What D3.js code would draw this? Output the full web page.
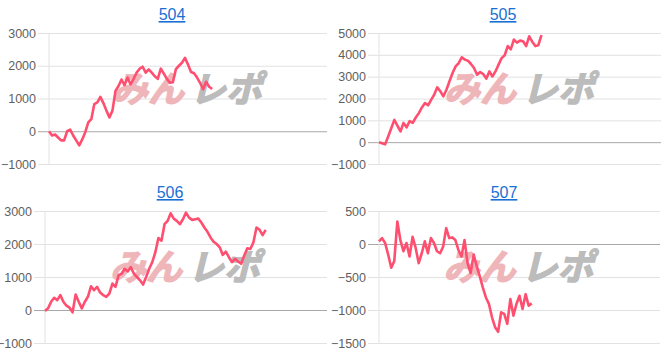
<!DOCTYPE html>
<html>
<head>
<meta charset="utf-8">
<script src="https://cdn.jsdelivr.net/npm/d3@7"></script>
<style>
  body { margin: 0; background: #fff; }
  svg { display: block; font-family: "Liberation Sans", Arial, sans-serif; }
  .tick-label { fill: #5f5f5f; font-size: 12.5px; }
  .title { fill: #1a6fd4; font-size: 16px; text-decoration: underline; }
</style>
</head>
<body>
<div class="chart"></div>
<script>
// machine names
const titles = ["504", "505", "506", "507"];

// y tick labels per machine
const ticks504 = [-1000, 0, 1000, 2000, 3000];
const ticks505 = [-1000, 0, 1000, 2000, 3000, 4000, 5000];
const ticks506 = [-1000, 0, 1000, 2000, 3000];
const ticks507 = [-1500, -1000, -500, 0, 500];

// cumulative difference per game
const series504 = [0, -130, -100, -190, -280, -280, 0, 50, -130, -280, -430, -250, -30, 270, 370, 830, 880, 1050,
  860, 630, 420, 630, 1230, 1380, 1580, 1410, 1640, 1430, 1600, 1790, 1910, 1970, 1790, 1890, 1790, 1680, 1600,
  1910, 1760, 1600, 1480, 1500, 1900, 2000, 2090, 2240, 2040, 1810, 1770, 1640, 1480, 1280, 1510, 1360, 1290];
const series505 = [0, -50, -100, 260, 640, 1020, 760, 490, 880, 680, 960, 880, 1130, 1330, 1590, 1790, 1690, 1940,
  2170, 2510, 2330, 2100, 2400, 2790, 3170, 3470, 3620, 3890, 3780, 3730, 3580, 3400, 3090, 3210, 3120, 2910,
  3240, 3010, 3240, 3550, 3850, 3980, 4400, 4250, 4700, 4560, 4650, 4620, 4400, 4850, 4600, 4400, 4450, 4900];
const series506 = [-30, 50, 250, 370, 300, 450, 250, 130, 70, -70, 470, 250, 50, 250, 400, 720, 600, 700, 530, 450,
  400, 500, 800, 700, 1050, 1100, 1250, 1170, 1300, 1100, 1000, 900, 770, 1000, 1250, 1450, 1750, 2180, 2100,
  2600, 2700, 2930, 2770, 2700, 2600, 2750, 2950, 2800, 2730, 2750, 2770, 2650, 2500, 2370, 2200, 2070, 2000,
  1900, 1670, 1770, 1600, 1450, 1550, 1470, 1400, 1650, 1870, 1850, 2050, 2500, 2430, 2270, 2430];
const series507 = [40, 90, 15, -160, -360, -260, 340, 60, -110, 15, -190, 110, -60, -290, -140, 40, -140, 90, 15,
  -110, -140, -40, 240, 90, 100, 60, -90, -190, 60, -290, -440, -160, -340, -490, -660, -810, -910, -1110, -1260,
  -1330, -1035, -1060, -1210, -835, -1085, -910, -785, -985, -760, -935, -900];

const maxGames = 92;

const panels = [
  { title: titles[0], data: series504, ticks: ticks504, cx: 172, ty: 20, left: 49, right: 327, top: 33, bottom: 164 },
  { title: titles[1], data: series505, ticks: ticks505, cx: 503, ty: 20, left: 379, right: 661, top: 33, bottom: 164 },
  { title: titles[2], data: series506, ticks: ticks506, cx: 170, ty: 198, left: 45, right: 327, top: 211, bottom: 343 },
  { title: titles[3], data: series507, ticks: ticks507, cx: 504, ty: 198, left: 379, right: 660, top: 211, bottom: 343 }
];

const svg = d3.select(".chart")
  .append("svg")
  .attr("width", 670)
  .attr("height", 354);

panels.forEach(p => {
  const g = svg.append("g");

  const x = d3.scaleLinear()
    .domain([0, maxGames])
    .range([p.left, p.right]);

  const y = d3.scaleLinear()
    .domain(d3.extent(p.ticks))
    .range([p.bottom, p.top]);

  // title
  g.append("text")
    .attr("class", "title")
    .attr("x", p.cx)
    .attr("y", p.ty)
    .attr("text-anchor", "middle")
    .text(p.title);

  // y axis: gridlines + labels (grid starts 11px left of the plot)
  const axis = d3.axisLeft(y)
    .tickValues(p.ticks)
    .tickSize(-(p.right - p.left + 11))
    .tickPadding(2)
    .tickFormat(d3.format("d"));

  const ag = g.append("g")
    .attr("transform", "translate(" + (p.left - 11) + ",0)")
    .call(axis);
  ag.select(".domain").remove();
  ag.selectAll(".tick line")
    .attr("stroke", d => d === 0 ? "#a8a8a8" : "#e2e2e2")
    .attr("stroke-width", 1);
  ag.selectAll(".tick text")
    .attr("class", "tick-label")
    .attr("font-family", null)
    .attr("font-size", null);

  // vertical axis line
  g.append("line")
    .attr("x1", p.left).attr("x2", p.left)
    .attr("y1", p.top).attr("y2", p.bottom)
    .attr("stroke", "#e2e2e2");

  // watermark
  const wx = (p.left + p.right) / 2;
  const wy = p.top + 69;
  const wm = g.append("g")
    .attr("transform", "translate(" + wx + "," + wy + ") skewX(-14)")
    .style("font-family", "'Noto Sans CJK JP', sans-serif")
    .style("font-weight", 700)
    .style("font-size", "36px");
  wm.append("text")
    .attr("x", -4)
    .attr("text-anchor", "end")
    .attr("fill", "#efb6ba")
    .attr("stroke", "#efb6ba")
    .attr("stroke-width", 1.5)
    .text("みん");
  wm.append("text")
    .attr("x", 2)
    .attr("text-anchor", "start")
    .attr("fill", "#bcbcbc")
    .attr("stroke", "#bcbcbc")
    .attr("stroke-width", 1.5)
    .text("レポ");

  // line
  const line = d3.line()
    .x((d, i) => x(i))
    .y(d => y(d));

  g.append("path")
    .datum(p.data)
    .attr("fill", "none")
    .attr("stroke", "#ff4f70")
    .attr("stroke-width", 2.6)
    .attr("stroke-linejoin", "round")
    .attr("d", line);
});
</script>
</body>
</html>
